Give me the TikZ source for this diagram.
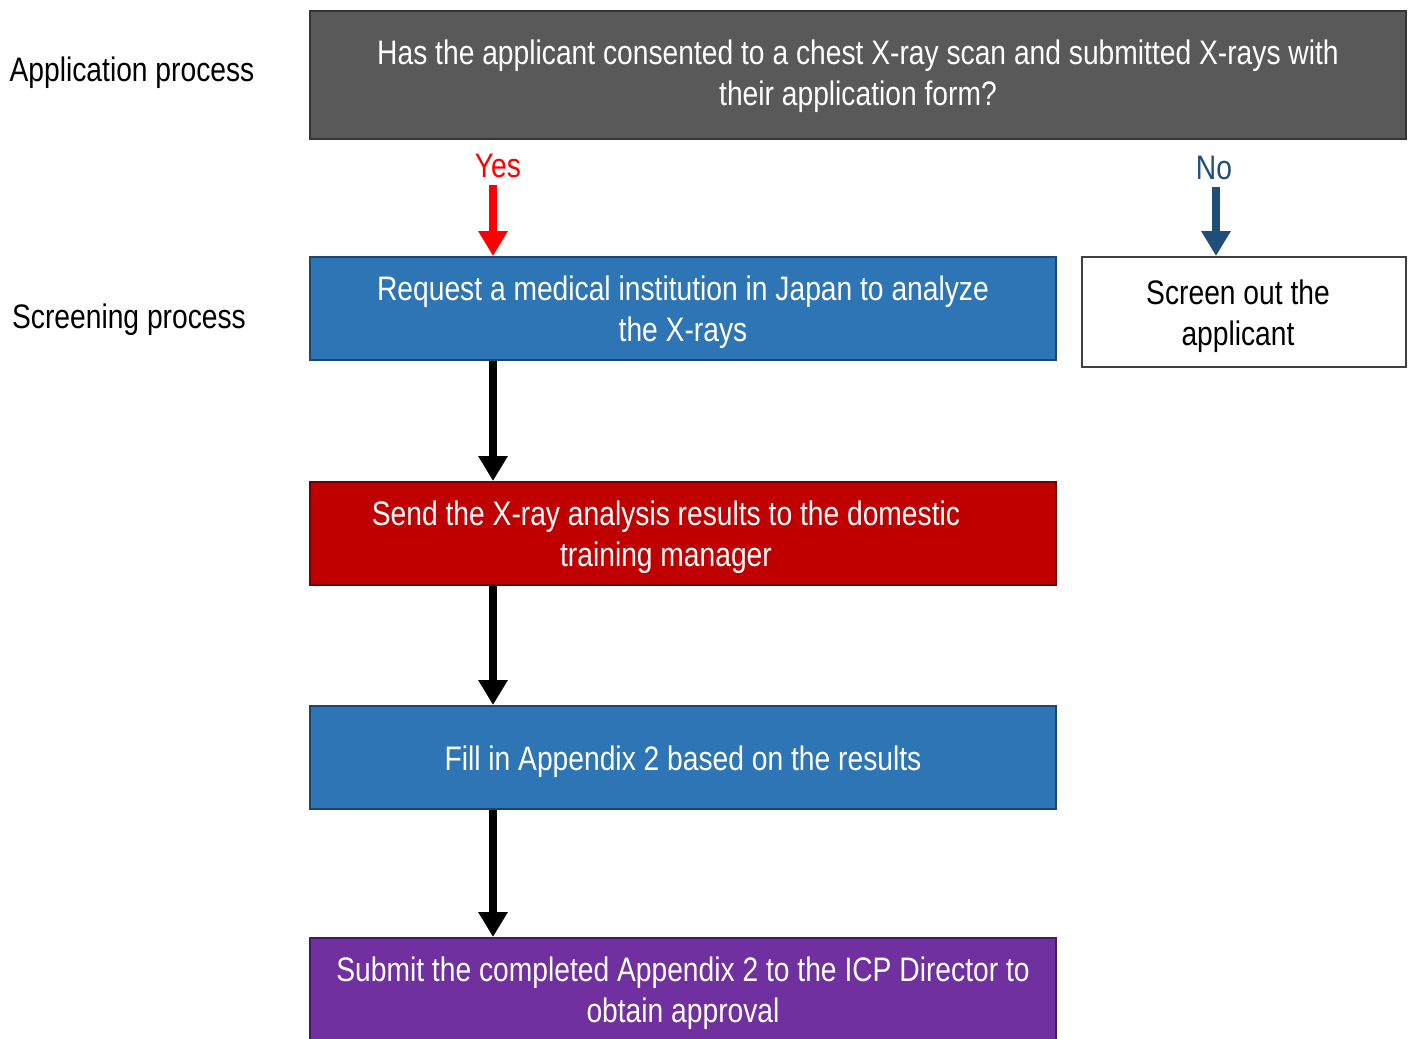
\documentclass[tikz,border=0pt]{standalone}
\usepackage{fontspec}
\setmainfont[FakeStretch=0.83]{Liberation Sans}
\usetikzlibrary{arrows.meta}

\definecolor{qgrey}{HTML}{595959}
\definecolor{stepblue}{HTML}{2E75B6}
\definecolor{stepred}{HTML}{C00000}
\definecolor{steppurple}{HTML}{7030A0}
\definecolor{nocol}{HTML}{1F4E79}
\definecolor{yescol}{HTML}{FF0000}

% text of a step box, set a little low
\newcommand{\boxtext}[1]{\raisebox{-2.3pt}[\height][\depth]{\begin{tabular}{@{}c@{}}#1\end{tabular}}}

\begin{document}
\begin{tikzpicture}[x=0.5pt, y=-0.5pt,
		every node/.style={font=\fontsize{17}{20.5}\selectfont},
		procbox/.style={draw=#1!60!black, fill=#1, text=white, line width=1pt, anchor=north west,
			minimum width=373pt, minimum height=51.5pt, inner sep=0pt, align=center},
		arr/.style={line width=4pt, -{Triangle[width=14pt, length=12.5pt]}}]
		\useasboundingbox (0,0) rectangle (1410,1039);
		\coordinate (c) at (493,0);

		% left labels
		\node (app) at (132,73) {Application process};
		\node (scr) at (129,320) {Screening process};

		% question and steps
		\node [procbox=qgrey, minimum width=548pt, minimum height=64pt] (q) at (309,10)
			{\raisebox{-0.8pt}[\height][\depth]{\begin{tabular}{@{}c@{}}Has the applicant consented to a chest X-ray scan and submitted X-rays with\\their application form?\end{tabular}}};
		\node [procbox=stepblue] (req) at (309,256) {\boxtext{Request a medical institution in Japan to analyze\\the X-rays}};
		\node [procbox=stepred] (send) at (309,481) {\boxtext{Send the X-ray analysis results to the domestic\\training manager}\hspace*{17pt}};
		\node [procbox=stepblue] (fill) at (309,705) {\boxtext{Fill in Appendix 2 based on the results}};
		\node [procbox=steppurple] (submit) at (309,937) {\boxtext{Submit the completed Appendix 2 to the ICP Director to\\obtain approval}};
		\node [draw=black!75, line width=1pt, anchor=north west, minimum width=162pt, minimum height=55pt,
			inner sep=0pt, align=center] (reject) at (1081,256) {\boxtext{Screen out the\\applicant}\hspace*{6pt}};

		% answers
		\node [text=yescol] (yes) at (498,166) {Yes};
		\node [text=nocol] (no) at (1214,168) {No};

		\draw [arr, yescol] (yes.south -| c) -- (req.north -| c);
		\draw [arr, nocol] ([xshift=1pt]no.south) -- ([xshift=1pt]no.south |- reject.north);
		\draw [arr] (req.south -| c) -- (send.north -| c);
		\draw [arr] (send.south -| c) -- (fill.north -| c);
		\draw [arr] (fill.south -| c) -- (submit.north -| c);
	\end{tikzpicture}
\end{document}
